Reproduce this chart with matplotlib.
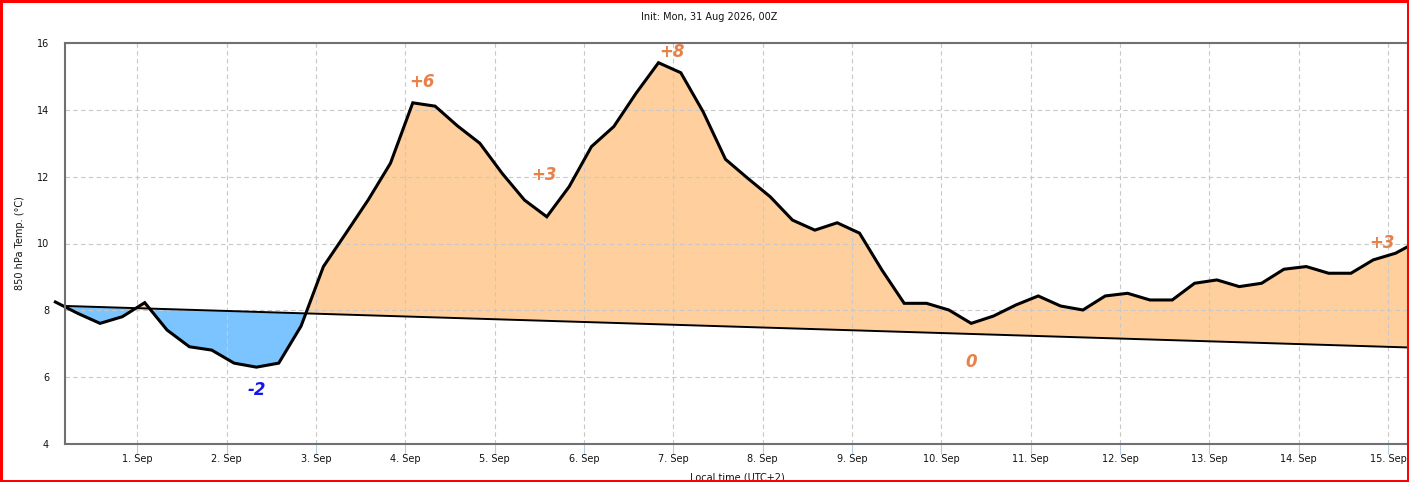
import numpy as np
import matplotlib
matplotlib.use("Agg")
import matplotlib.pyplot as plt
from matplotlib.patches import Rectangle

# ---- data (times in days since 31 Aug 00:00 local; 1.0 = 1 Sep 00:00) ----
hours = [2, 8, 14, 20]
temps = [
    8.25, 7.91, 7.61, 7.81,      # 31 Aug
    8.23, 7.41, 6.91, 6.81,      # 1 Sep
    6.42, 6.30, 6.42, 7.53,      # 2 Sep
    9.31, 10.30, 11.30, 12.40,   # 3 Sep
    14.21, 14.11, 13.52, 13.00,  # 4 Sep
    12.10, 11.30, 10.80, 11.70,  # 5 Sep
    12.90, 13.50, 14.50, 15.41,  # 6 Sep
    15.11, 13.94, 12.52, 11.95,  # 7 Sep
    11.40, 10.70, 10.40, 10.62,  # 8 Sep
    10.31, 9.21, 8.21, 8.21,     # 9 Sep
    8.01, 7.61, 7.83, 8.16,      # 10 Sep
    8.43, 8.13, 8.01, 8.43,      # 11 Sep
    8.51, 8.31, 8.31, 8.81,      # 12 Sep
    8.91, 8.71, 8.81, 9.23,      # 13 Sep
    9.31, 9.11, 9.11, 9.51,      # 14 Sep
    9.71, 10.07,                 # 15 Sep
]
day_index = [d for d in range(0, 16) for _ in hours][:len(temps)]
hour_index = (hours * 16)[:len(temps)]
times = np.array([d + h / 24.0 for d, h in zip(day_index, hour_index)])
temps = np.array(temps)

clim_days = [0.0833, 15.333]
clim_vals = [8.14, 6.88]

tick_days = list(range(1, 16))
tick_labels = [f"{d}. Sep" for d in tick_days]
y_ticks = [4, 6, 8, 10, 12, 14, 16]

anomaly_texts = ["+6", "+3", "+8", "-2", "0", "+3"]
anomaly_x = [4.185, 5.552, 6.981, 2.336, 10.334, 14.934]
anomaly_y = [14.84, 12.05, 15.72, 5.62, 6.445, 10.006]
anomaly_colors = ["#E8804A", "#E8804A", "#E8804A", "#1515F0", "#E8804A", "#E8804A"]

# ---- figure ----
fig = plt.figure(figsize=(14.09, 4.82), dpi=100)
ax = fig.add_axes([65 / 1409, 38 / 482, 1343 / 1409, 401 / 482])

clim_at_t = np.interp(times, clim_days, clim_vals)
ax.fill_between(times, temps, clim_at_t, where=temps >= clim_at_t, interpolate=True,
                color="#FFD09E", lw=0, zorder=1)
ax.fill_between(times, temps, clim_at_t, where=temps <= clim_at_t, interpolate=True,
                color="#7CC4FF", lw=0, zorder=1)
ax.plot(clim_days, clim_vals, color="black", lw=1.4, zorder=3)
ax.plot(times, temps, color="black", lw=2.2, zorder=4, clip_on=False, solid_joinstyle="miter")

for t, x, y, c in zip(anomaly_texts, anomaly_x, anomaly_y, anomaly_colors):
    ax.text(x, y, t, color=c, fontsize=12, fontweight="bold", fontstyle="italic",
            family="DejaVu Sans", ha="center", va="center", zorder=5)

ax.set_xlim(0.191, 15.222)
ax.set_ylim(4, 16)
ax.set_xticks(tick_days)
ax.set_xticklabels(tick_labels)
ax.set_yticks(y_ticks)

ax.grid(True, color="#C8C8C8", linestyle=(0, (4, 3)), lw=0.8, zorder=2)
ax.set_axisbelow(False)
for line in ax.get_xgridlines() + ax.get_ygridlines():
    line.set_zorder(2)

ax.tick_params(axis="x", direction="out", length=7, width=0.8, color="#B4CCE4",
               pad=0.5, labelsize=7, labelcolor="#111111")
ax.tick_params(axis="y", length=0, pad=11.5, labelsize=7, labelcolor="#111111")

for side in ["left", "top", "bottom", "right"]:
    ax.spines[side].set_color("#707070")
    ax.spines[side].set_linewidth(1.5)
    ax.spines[side].set_zorder(6)

fig.text(709 / 1409, 1 - 17 / 482, "Init: Mon, 31 Aug 2026, 00Z", ha="center", va="center",
         fontsize=7, color="#111111")
fig.text(20 / 1409, 1 - 243 / 482, "850 hPa Temp. (°C)", rotation=90, ha="center", va="center",
         fontsize=7, color="#111111")
fig.text(737 / 1409, 1 - 472 / 482, "Local time (UTC+2)", ha="center", va="top",
         fontsize=7, color="#111111")

fig.patches.append(Rectangle((0, 0), 1, 1, transform=fig.transFigure, fill=False,
                             edgecolor="red", lw=3.6, zorder=10))

fig.savefig("out.png", dpi=100)
